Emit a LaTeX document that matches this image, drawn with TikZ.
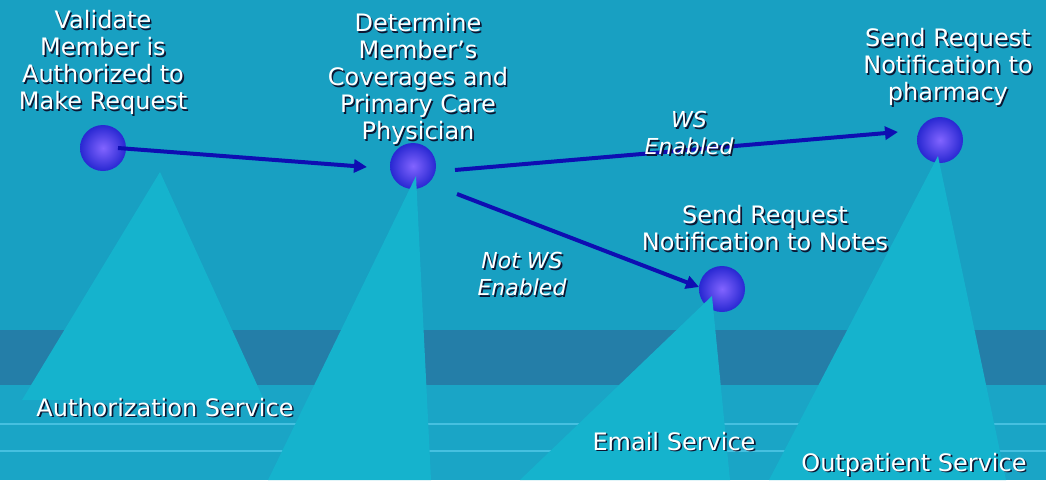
\documentclass[tikz,border=0pt]{standalone}
\usepackage{fontspec}
\setmainfont{DejaVu Sans}
\usetikzlibrary{arrows.meta,calc}
\definecolor{bgc}{RGB}{24,160,194}
\definecolor{bandc}{RGB}{36,126,168}
\definecolor{lowc}{RGB}{26,165,198}
\definecolor{linec}{RGB}{70,192,224}
\definecolor{tric}{RGB}{21,179,205}
\definecolor{arrc}{RGB}{14,14,178}
\definecolor{sphin}{RGB}{130,100,255}
\definecolor{sphout}{RGB}{40,40,210}
\definecolor{shadowc}{RGB}{12,22,50}
\newcommand{\sh}[1]{\makebox[0pt][l]{\kern1.6pt\raisebox{-1.6pt}{\textcolor{shadowc}{#1}}}#1}
\tikzset{
  sphere/.style={circle, minimum size=46pt, inner sep=0pt, shade, inner color=sphin, outer color=sphout},
  flow/.style={draw=arrc, line width=4pt, -{Triangle[length=13pt,width=13pt]}},
  lbl/.style={text=white, align=center, inner sep=0pt, anchor=north},
  cond/.style={lbl, font=\fontsize{22}{27}\selectfont\itshape},
  svc/.style={text=white, inner sep=0pt, anchor=base},
  tri/.style={fill=tric}
}
\begin{document}
\begin{tikzpicture}[x=1pt,y=-1pt,font=\fontsize{24}{27}\selectfont]
\useasboundingbox (0,0) rectangle (1046,480);
% background
\fill[bgc] (0,0) rectangle (1046,480);
\fill[bandc] (0,330) rectangle (1046,385);
\fill[lowc] (0,385) rectangle (1046,480);
\draw[linec, line width=2pt] (0,424) -- (1046,424);
\draw[linec, line width=2pt] (0,451) -- (1046,451);
% spheres
\node[sphere] (n1) at (103,148) {};
\node[sphere] (n2) at (413,166) {};
\node[sphere] (n3) at (722,289) {};
\node[sphere] (n4) at (940,140) {};
% light cones
\fill[tri] (160,172) -- (264,400) -- (22,400) -- cycle;
\fill[tri] (416,176) -- (431,480) -- (268,480) -- cycle;
\fill[tri] (712,296) -- (730,480) -- (520,480) -- cycle;
\fill[tri] (938,156) -- (1006,480) -- (769,480) -- cycle;
% connectors
\draw[flow] ($(n1)+(15,0)$) -- ($(n2)+(-46,1)$);
\draw[flow] ($(n2)+(42,4)$) -- ($(n4)+(-42,-8)$);
\draw[flow] ($(n2)+(44,28)$) -- ($(n3)+(-23,-2)$);
% labels
\node[lbl] (t1) at (103,10) {\sh{Validate}\\\sh{Member is}\\\sh{Authorized to}\\\sh{Make Request}};
\node[lbl] (t2) at (418,13) {\sh{Determine}\\\sh{Member's}\\\sh{Coverages and}\\\sh{Primary Care}\\\sh{Physician}};
\node[lbl] (t4) at (948,28) {\sh{Send Request}\\\sh{Notification to}\\\sh{pharmacy}};
\node[lbl] (t3) at (765,205) {\sh{Send Request}\\\sh{Notification to Notes}};
\node[cond] (c1) at (689,111) {\sh{WS}\\\sh{Enabled}};
\node[cond] (c2) at (522,252) {\sh{Not WS}\\\sh{Enabled}};
\node[svc] (s1) at (165,416) {\sh{Authorization Service}};
\node[svc] (s3) at (674,450) {\sh{Email Service}};
\node[svc] (s4) at (914,471) {\sh{Outpatient Service}};
\end{tikzpicture}
\end{document}
